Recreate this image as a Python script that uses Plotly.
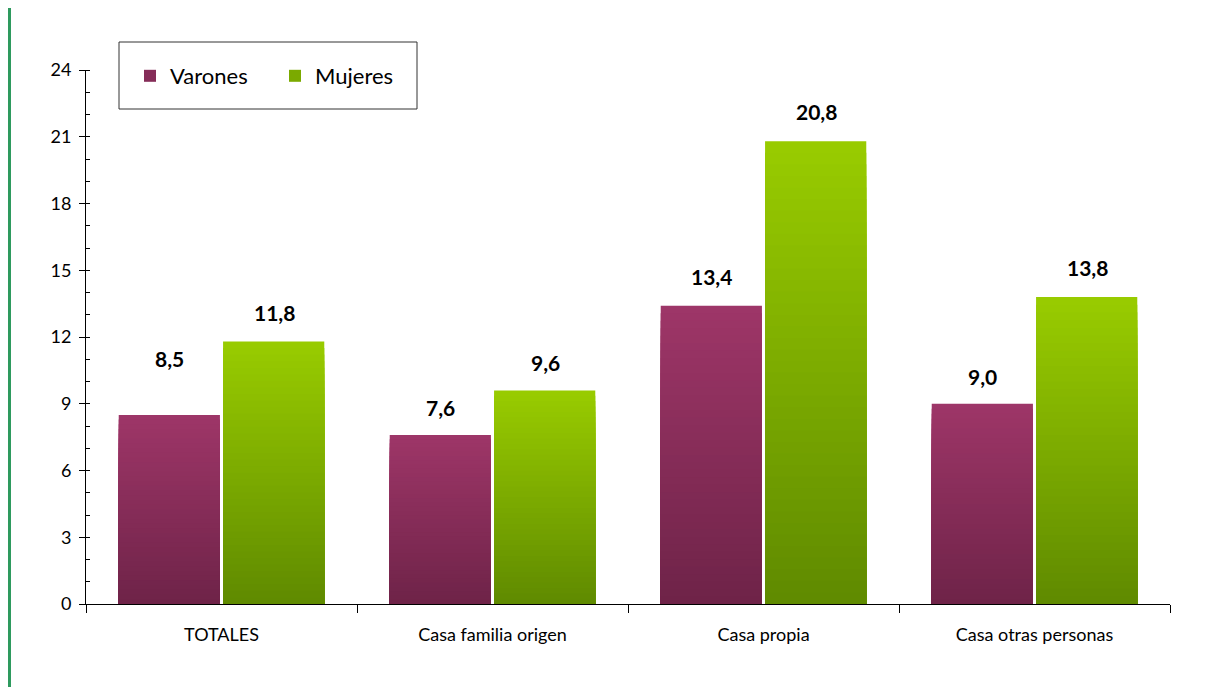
import plotly.graph_objects as go

categories = ["TOTALES", "Casa familia origen", "Casa propia", "Casa otras personas"]
varones = [8.5, 7.6, 13.4, 9.0]
mujeres = [11.8, 9.6, 20.8, 13.8]
series_names = ["Varones", "Mujeres"]
y_ticks = [0, 3, 6, 9, 12, 15, 18, 21, 24]

# styles
FONT = "Lato, 'Liberation Sans', sans-serif"
grad = {
    "Varones": ((0x6e, 0x23, 0x48), (0x9e, 0x36, 0x68)),
    "Mujeres": ((0x5f, 0x8a, 0x00), (0x99, 0xcc, 0x00)),
}
label_shift = {"Varones": [56, 27, 29, 27], "Mujeres": [29, 28, 30, 29]}
N = 40
PW, PH = 1084, 534  # plot area size in px
ML, MT = 78, 62     # page body adds 8px offset

def lerp(c0, c1, t):
    return "rgb(%d,%d,%d)" % tuple(round(a + (b - a) * t) for a, b in zip(c0, c1))

fig = go.Figure()
for name, vals in zip(series_names, [varones, mujeres]):
    bottom, top = grad[name]
    for i in range(N):
        frac = (N - i) / N
        fig.add_trace(go.Bar(
            x=categories,
            y=[v * frac for v in vals],
            offsetgroup=name,
            marker=dict(color=lerp(bottom, top, frac - 0.5 / N), line=dict(width=0)),
            name=name,
            showlegend=(i == N // 2),
            legendrank=1 if name == "Varones" else 2,
            hoverinfo="skip",
        ))

for name, vals, xs in [("Varones", varones, -52.5), ("Mujeres", mujeres, 52.5)]:
    for c, v, s in zip(categories, vals, label_shift[name]):
        fig.add_annotation(
            x=c, y=v, xshift=xs, yshift=s, yanchor="middle",
            text="<b>%s</b>" % ("%.1f" % v).replace(".", ","),
            showarrow=False, font=dict(size=21, color="black", family=FONT),
        )

# green vertical rule at far left
fig.add_shape(type="line", xref="paper", yref="paper",
              x0=-76.5 / PW, x1=-76.5 / PW, y0=-83 / PH, y1=1 + 70 / PH,
              line=dict(color="#2e9a5e", width=3))
# legend frame
fig.add_shape(type="rect", xref="paper", yref="paper",
              x0=33 / PW, x1=331 / PW, y0=1 - 39 / PH, y1=1 + 28 / PH,
              line=dict(color="#333333", width=1), fillcolor="white", layer="below")

fig.update_layout(
    width=1200, height=679,
    margin=dict(l=ML, r=1200 - ML - PW, t=MT, b=679 - MT - PH, autoexpand=False),
    paper_bgcolor="white", plot_bgcolor="white",
    barmode="group", bargap=0.23, bargroupgap=0.03,
    font=dict(family=FONT, color="black"),
    legend=dict(
        orientation="h", x=44 / PW, y=1 - 6 / PH, xanchor="left", yanchor="middle",
        borderwidth=0, bgcolor="rgba(0,0,0,0)",
        font=dict(size=22, family=FONT), itemwidth=30,
        entrywidth=100, tracegroupgap=0,
    ),
    showlegend=True,
)
fig.update_yaxes(
    range=[0, 24], tickvals=y_ticks, ticks="outside", ticklen=6, tickcolor="black",
    showline=True, linecolor="black", linewidth=1, showgrid=False, zeroline=False,
    tickfont=dict(size=18), ticklabelstandoff=4,
    minor=dict(dtick=1, ticks="inside", ticklen=4, tickcolor="black"),
)
fig.update_xaxes(
    tickson="boundaries", ticks="outside", ticklen=8, tickcolor="black",
    showline=True, linecolor="black", linewidth=1, showgrid=False,
    tickfont=dict(size=18), ticklabelstandoff=14,
)

fig.write_html("out.html")
